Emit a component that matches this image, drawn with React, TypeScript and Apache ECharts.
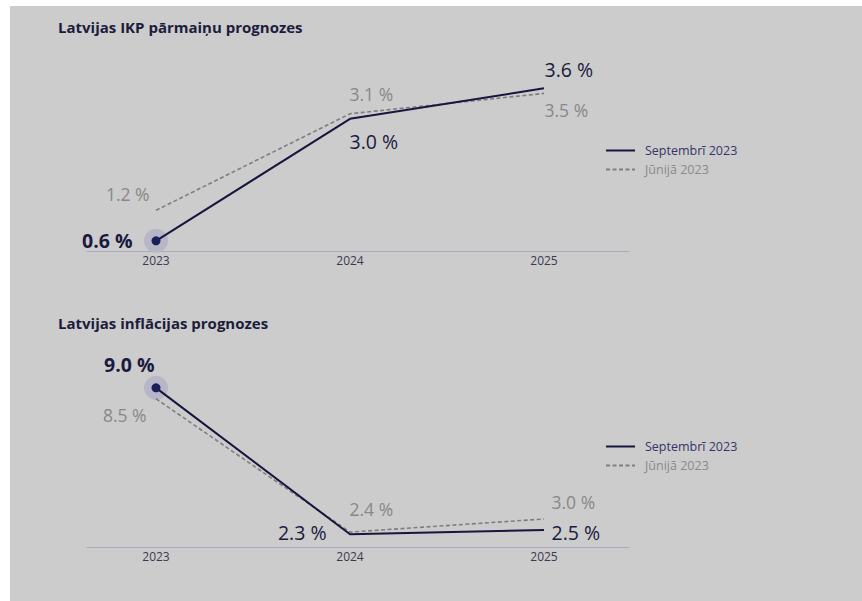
import React, { useEffect, useRef } from "react";
import * as echarts from "echarts";

const years = [2023, 2024, 2025];
const yearLabels = ["2023", "2024", "2025"];
const gdpSept = [0.6, 3.0, 3.6];
const gdpJune = [1.2, 3.1, 3.5];
const infSept = [9.0, 2.3, 2.5];
const infJune = [8.5, 2.4, 3.0];
const seriesNames = ["Septembrī 2023", "Jūnijā 2023"];
const titles = ["Latvijas IKP pārmaiņu prognozes", "Latvijas inflācijas prognozes"];

const NAVY = "#16163e";
const NAVY_TXT = "#1a1a40";
const GRAY_LINE = "#7e7e7e";
const GRAY_TXT = "#888888";
const FONT = "Open Sans";

type LabelSpec = { off: [number, number]; align: string; bold?: boolean };

const gdpSeptLabels: LabelSpec[] = [
  { off: [-23, 0], align: "right", bold: true },
  { off: [0, 23], align: "left" },
  { off: [1, -18], align: "left" },
];
const gdpJuneLabels: LabelSpec[] = [
  { off: [-6, -16], align: "right" },
  { off: [0, -19], align: "left" },
  { off: [1, 17], align: "left" },
];
const infSeptLabels: LabelSpec[] = [
  { off: [-1, -23], align: "right", bold: true },
  { off: [-23, -1], align: "right" },
  { off: [8, 3], align: "left" },
];
const infJuneLabels: LabelSpec[] = [
  { off: [-9, 17], align: "right" },
  { off: [0, -23], align: "left" },
  { off: [8, -16], align: "left" },
];

const fmt = (v: number) => v.toFixed(1) + " %";

function labelSeries(vals: number[], specs: LabelSpec[], idx: number, primary: boolean) {
  return {
    type: "scatter",
    xAxisIndex: idx,
    yAxisIndex: idx,
    symbolSize: 1,
    itemStyle: { color: "rgba(0,0,0,0)", opacity: 1 },
    silent: true,
    z: 5,
    data: vals.map((v, i) => ({
      value: [years[i], v],
      label: {
        show: true,
        formatter: fmt(v),
        position: specs[i].off,
        align: specs[i].align,
        verticalAlign: "middle",
        fontFamily: FONT,
        fontSize: specs[i].bold ? 19.5 : primary ? 19.5 : 17.5,
        fontWeight: specs[i].bold ? "bold" : "normal",
        color: primary ? NAVY_TXT : GRAY_TXT,
        opacity: 1,
      },
    })),
  };
}

function lineSeries(vals: number[], idx: number, primary: boolean) {
  return {
    type: "line",
    name: seriesNames[primary ? 0 : 1],
    xAxisIndex: idx,
    yAxisIndex: idx,
    symbol: "none",
    z: primary ? 4 : 3,
    lineStyle: primary
      ? { color: NAVY, width: 2 }
      : { color: GRAY_LINE, width: 1.6, type: [4, 2.5] },
    itemStyle: { color: primary ? NAVY : GRAY_LINE },
    data: vals.map((v, i) => [years[i], v]),
  };
}

function markerSeries(vals: number[], idx: number) {
  return [
    {
      type: "scatter",
      xAxisIndex: idx,
      yAxisIndex: idx,
      symbolSize: 24,
      silent: true,
      z: 1,
      itemStyle: { color: "#b6b6c8", opacity: 1 },
      data: [[years[0], vals[0]]],
    },
    {
      type: "scatter",
      xAxisIndex: idx,
      yAxisIndex: idx,
      symbolSize: 9,
      silent: true,
      z: 6,
      itemStyle: { color: "#1b1f5a", opacity: 1 },
      data: [[years[0], vals[0]]],
    },
  ];
}

function xAxisDef(idx: number) {
  return {
    type: "value",
    gridIndex: idx,
    min: 2022.6443,
    max: 2025.4381,
    splitLine: { show: false },
    axisTick: { show: false },
    axisLine: { show: true, lineStyle: { color: "#a9a9bf", width: 1 } },
    axisLabel: {
      customValues: years,
      formatter: (v: number) => yearLabels[years.indexOf(Math.round(v))] ?? "",
      color: "#3a3a50",
      fontFamily: FONT,
      fontSize: 12,
      margin: 3,
      showMinLabel: true,
      showMaxLabel: true,
    },
  };
}

function yAxisDef(idx: number, min: number, max: number) {
  return {
    type: "value",
    gridIndex: idx,
    min,
    max,
    show: false,
    splitLine: { show: false },
  };
}

function legendDef(top: number) {
  return {
    orient: "vertical",
    left: 600,
    top,
    itemWidth: 29,
    itemHeight: 12,
    itemGap: 6,
    selectedMode: false,
    itemStyle: { opacity: 0 },
    textStyle: { fontFamily: FONT, fontSize: 12.5, padding: [0, 0, 0, 5] },
    data: [
      { name: seriesNames[0], textStyle: { color: "#35356a" } },
      { name: seriesNames[1], textStyle: { color: "#8a8a8a" } },
    ],
  };
}

export default function App() {
  const ref = useRef<HTMLDivElement>(null);
  useEffect(() => {
    if (!ref.current) return;
    const chart = echarts.init(ref.current, undefined, { renderer: "svg" });
    chart.setOption({
      animation: false,
      backgroundColor: "#ffffff",
      graphic: [
        {
          type: "rect",
          z: -10,
          silent: true,
          shape: { x: 10, y: 6, width: 852, height: 595 },
          style: { fill: "#cccccc" },
        },
      ],
      title: [
        {
          text: titles[0],
          left: 53,
          top: 14.5,
          textStyle: { fontFamily: FONT, fontSize: 15, fontWeight: "bold", color: "#1c1c3c" },
        },
        {
          text: titles[1],
          left: 53,
          top: 310.5,
          textStyle: { fontFamily: FONT, fontSize: 15, fontWeight: "bold", color: "#1c1c3c" },
        },
      ],
      legend: [legendDef(139), legendDef(435)],
      grid: [
        { left: 87, width: 542, top: 68, height: 183 },
        { left: 87, width: 542, top: 366, height: 181.4 },
      ],
      xAxis: [xAxisDef(0), xAxisDef(1)],
      yAxis: [yAxisDef(0, 0.4, 4.0), yAxisDef(1, 1.7, 10)],
      series: [
        lineSeries(gdpSept, 0, true),
        lineSeries(gdpJune, 0, false),
        ...markerSeries(gdpSept, 0),
        labelSeries(gdpSept, gdpSeptLabels, 0, true),
        labelSeries(gdpJune, gdpJuneLabels, 0, false),
        lineSeries(infSept, 1, true),
        lineSeries(infJune, 1, false),
        ...markerSeries(infSept, 1),
        labelSeries(infSept, infSeptLabels, 1, true),
        labelSeries(infJune, infJuneLabels, 1, false),
      ],
    });
    return () => chart.dispose();
  }, []);
  return (
    <div
      ref={ref}
      style={{ position: "absolute", left: 0, top: 0, width: 862, height: 601 }}
    />
  );
}
